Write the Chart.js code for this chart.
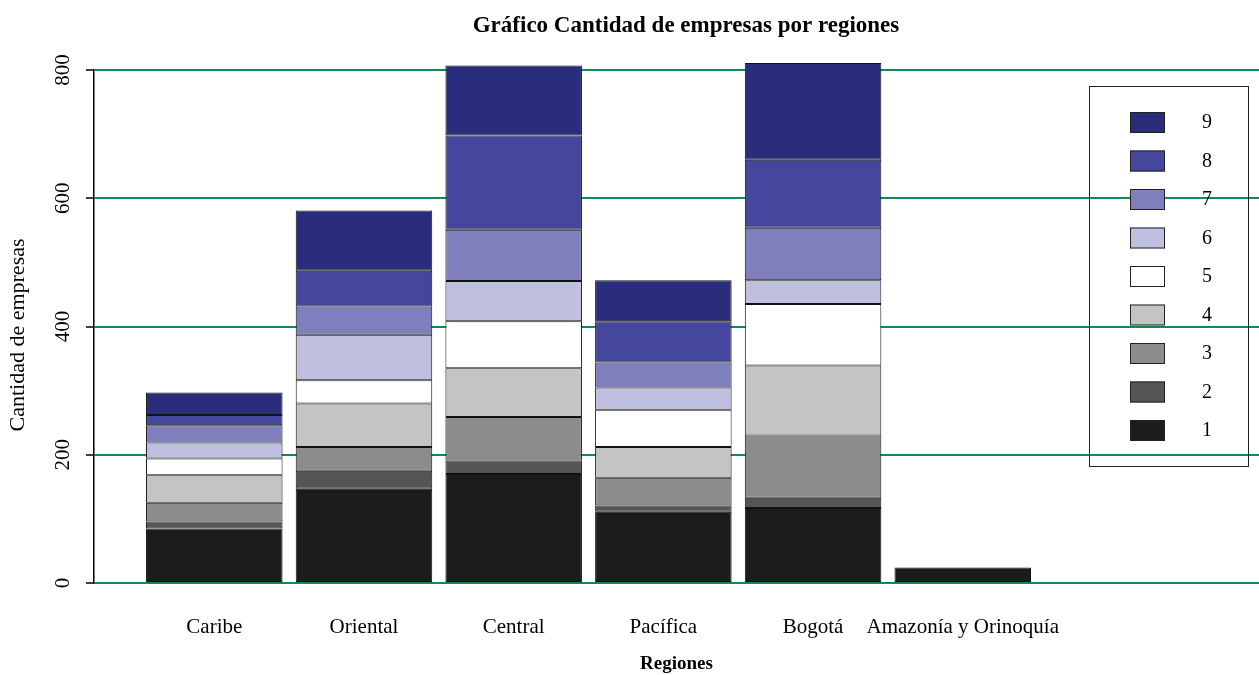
<!DOCTYPE html>
<html>
<head>
<meta charset="utf-8">
<script src="https://cdn.jsdelivr.net/npm/chart.js@4"></script>
<style>
  body { margin: 0; background: #fff; }
  canvas { display: block; }
</style>
</head>
<body>
<canvas id="chart" width="1259" height="675"></canvas>
<script>
const regions = ["Caribe", "Oriental", "Central", "Pacífica", "Bogotá", "Amazonía y Orinoquía"];
const seriesNames = ["1", "2", "3", "4", "5", "6", "7", "8", "9"];

// one array per series, in the order of the regions
const s1 = [85, 147, 170, 111, 117, 24];
const s2 = [11, 28, 21, 10, 16, null];
const s3 = [29, 37, 68, 43, 97, null];
const s4 = [43, 68, 76, 48, 109, null];
const s5 = [26, 36, 73, 58, 96, null];
const s6 = [25, 71, 63, 35, 37, null];
const s7 = [27, 44, 80, 39, 82, null];
const s8 = [16, 56, 147, 64, 106, null];
const s9 = [35, 94, 109, 64, 151, null];
const series = [s1, s2, s3, s4, s5, s6, s7, s8, s9];

const yTicks = [0, 200, 400, 600, 800];

const colors = ["#1c1c1c", "#555555", "#8c8c8c", "#c4c4c4", "#ffffff",
                "#bfbfdf", "#7f7fbe", "#45479c", "#2a2d7c"];

const serif = "'Liberation Serif', 'DejaVu Serif', serif";

const datasets = series.map((values, k) => ({
  label: seriesNames[k],
  data: values.map((v, i) => ({ x: i + 1, y: v })),
  backgroundColor: colors[k],
  borderColor: "#111",
  borderWidth: 1,
  borderSkipped: false,
  barPercentage: 0.912,
  categoryPercentage: 1,
  clip: false,
}));

const extras = {
  id: "extras",
  afterDraw(chart) {
    const ctx = chart.ctx;
    const y = chart.scales.y;
    ctx.save();
    ctx.fillStyle = "#000";

    // title
    ctx.font = "bold 23px " + serif;
    ctx.textAlign = "center";
    ctx.textBaseline = "middle";
    ctx.fillText("Gráfico Cantidad de empresas por regiones", 686, 26);

    // rotated y tick labels
    ctx.font = "21px " + serif;
    yTicks.forEach((t) => {
      ctx.save();
      ctx.translate(63, y.getPixelForValue(t));
      ctx.rotate(-Math.PI / 2);
      ctx.fillText(String(t), 0, 0);
      ctx.restore();
    });

    // y axis title
    ctx.save();
    ctx.translate(18, 335);
    ctx.rotate(-Math.PI / 2);
    ctx.font = "22px " + serif;
    ctx.fillText("Cantidad de empresas", 0, 0);
    ctx.restore();

    // legend box
    ctx.strokeStyle = "#222";
    ctx.lineWidth = 1;
    ctx.strokeRect(1089.5, 86.5, 159, 380);
    ctx.font = "20px " + serif;
    const ds = chart.data.datasets;
    for (let k = ds.length - 1; k >= 0; k--) {
      const row = ds.length - 1 - k;
      const top = 112 + row * 38.5;
      ctx.fillStyle = ds[k].backgroundColor;
      ctx.fillRect(1130, top, 35, 21);
      ctx.strokeStyle = "#222";
      ctx.strokeRect(1130.5, top + 0.5, 34, 20);
      ctx.fillStyle = "#000";
      ctx.fillText(ds[k].label, 1207, top + 11);
    }
    ctx.restore();
  },
};

new Chart(document.getElementById("chart"), {
  type: "bar",
  data: { datasets },
  plugins: [extras],
  options: {
    responsive: false,
    animation: false,
    layout: { padding: { top: 70, left: 0, right: 0, bottom: 0 } },
    plugins: {
      legend: { display: false },
      title: { display: false },
      tooltip: { enabled: false },
    },
    scales: {
      x: {
        type: "linear",
        stacked: true,
        offset: false,
        min: 0.1964,
        max: 7.979,
        afterFit: (scale) => { scale.height = 92; },
        afterBuildTicks: (scale) => {
          scale.ticks = regions.map((_, i) => ({ value: i + 1 }));
        },
        grid: { display: false, offset: false },
        border: { display: false },
        ticks: {
          autoSkip: false,
          maxRotation: 0,
          minRotation: 0,
          padding: 24,
          color: "#000",
          font: { family: serif, size: 21 },
          callback: (value) => regions[value - 1] || "",
        },
        title: {
          display: true,
          text: "Regiones",
          color: "#000",
          font: { family: serif, size: 19, weight: "bold" },
          padding: { top: 4, bottom: 0 },
        },
      },
      y: {
        stacked: true,
        min: 0,
        max: 800,
        afterFit: (scale) => { scale.width = 94; },
        afterBuildTicks: (scale) => {
          scale.ticks = yTicks.map((v) => ({ value: v }));
        },
        grid: {
          color: "#138a50",
          lineWidth: 2,
          drawTicks: true,
          tickLength: 8,
          tickColor: "#000",
          tickWidth: 1.5,
        },
        border: { display: true, color: "#000", width: 1.5 },
        ticks: { display: false },
      },
    },
  },
});
</script>
</body>
</html>
